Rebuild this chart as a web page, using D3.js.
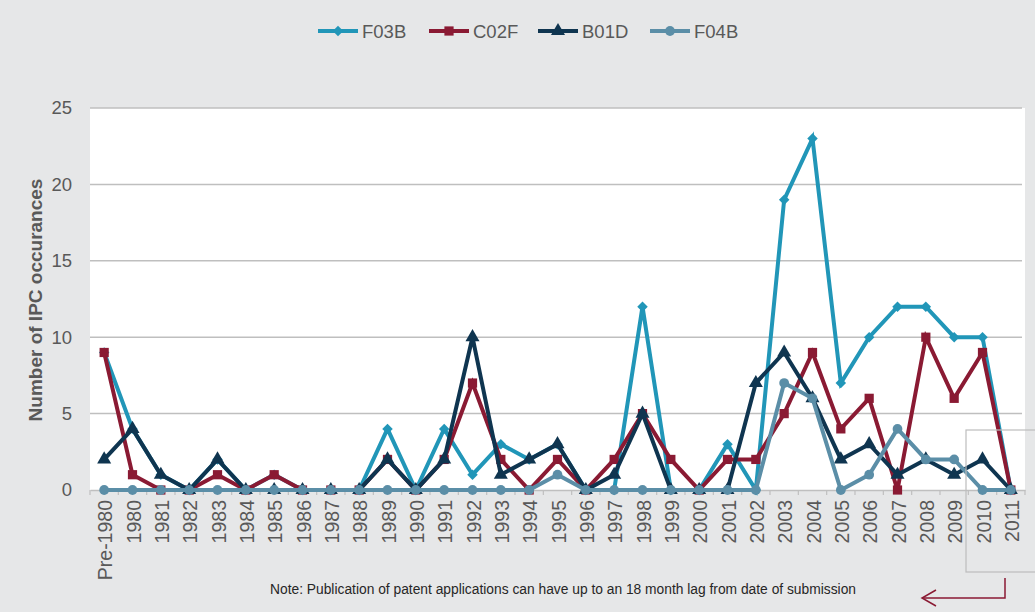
<!DOCTYPE html>
<html><head><meta charset="utf-8">
<script src="https://cdn.jsdelivr.net/npm/d3@7"></script>
<style>
html,body{margin:0;padding:0;background:#e6e7e8;}
svg{display:block;font-family:Arial,"Liberation Sans",sans-serif;}
</style></head>
<body>
<svg id="c" width="1035" height="612"></svg>
<script>
const categories = ["Pre-1980","1980","1981","1982","1983","1984","1985","1986","1987","1988","1989","1990","1991","1992","1993","1994","1995","1996","1997","1998","1999","2000","2001","2002","2003","2004","2005","2006","2007","2008","2009","2010","2011"];
const F03B = [9,4,1,0,2,0,1,0,0,0,4,0,4,1,3,2,3,0,0,12,0,0,3,0,19,23,7,10,12,12,10,10,0];
const C02F = [9,1,0,0,1,0,1,0,0,0,2,0,2,7,2,0,2,0,2,5,2,0,2,2,5,9,4,6,0,10,6,9,0];
const B01D = [2,4,1,0,2,0,0,0,0,0,2,0,2,10,1,2,3,0,1,5,0,0,0,7,9,6,2,3,1,2,1,2,0];
const F04B = [0,0,0,0,0,0,0,0,0,0,0,0,0,0,0,0,1,0,0,0,0,0,0,0,7,6,0,1,4,2,2,0,0];
const yTicks = [0,5,10,15,20,25];
const seriesNames = ["F03B","C02F","B01D","F04B"];
const seriesValues = [F03B, C02F, B01D, F04B];
const seriesColors = ["#2196b8","#8a1a33","#0f3550","#5b8ea7"];
const seriesSymbols = [d3.symbolDiamond2, d3.symbolSquare, d3.symbolTriangle, d3.symbolCircle];
const symbolSizes = [70, 85, 85, 75];
const yTitle = "Number of IPC occurances";
const note = "Note: Publication of patent applications can have up to an 18 month lag from date of submission";

const svg = d3.select("#c");
const L = 90, R = 1025, T = 108, B = 490;
const x = d3.scaleBand().domain(categories).range([L, R]);
const y = d3.scaleLinear().domain([0, 25]).range([B, T]);
const cx = d => x(d) + x.bandwidth()/2;

// plot background
svg.append("rect").attr("x", L).attr("y", T).attr("width", R - L).attr("height", B - T).attr("fill", "#ffffff");

// gridlines
svg.append("g").selectAll("line").data(yTicks.filter(v => v > 0)).join("line")
  .attr("x1", L).attr("x2", R - 3).attr("y1", d => y(d)).attr("y2", d => y(d))
  .attr("stroke", "#bfbfbf").attr("stroke-width", 1.5);

// y axis labels
const yAxis = d3.axisLeft(y).tickValues(yTicks).tickSize(0).tickPadding(18);
const gy = svg.append("g").attr("transform", `translate(${L},0)`).call(yAxis);
gy.select(".domain").remove();
gy.selectAll("text").attr("font-size", 18.5).attr("fill", "#595959").attr("font-family", "Arial, Liberation Sans, sans-serif");

// x axis
const xAxis = d3.axisBottom(x).tickSize(0).tickPadding(8);
const gx = svg.append("g").attr("transform", `translate(0,${B})`).call(xAxis);
gx.select(".domain").attr("stroke", "#bfbfbf").attr("stroke-width", 1.5);
gx.selectAll("text")
  .attr("font-size", 19.5).attr("fill", "#595959").attr("font-family", "Arial, Liberation Sans, sans-serif")
  .attr("text-anchor", "end").attr("dy", null).attr("y", 0)
  .attr("transform", "translate(1,10) rotate(-90)").attr("dx", 0).attr("dominant-baseline", "central");
// boundary tick marks
svg.append("g").selectAll("line").data(d3.range(categories.length + 1)).join("line")
  .attr("x1", i => L + x.step()*i).attr("x2", i => L + x.step()*i)
  .attr("y1", B).attr("y2", B + 5).attr("stroke", "#bfbfbf").attr("stroke-width", 1.2);

// y title
svg.append("text").attr("transform", `translate(42,300) rotate(-90)`)
  .attr("text-anchor", "middle").attr("font-size", 19).attr("font-weight", "bold").attr("fill", "#595959")
  .text(yTitle);

// series
const line = d3.line().x((d,i) => cx(categories[i])).y(d => y(d));
seriesValues.forEach((vals, si) => {
  const g = svg.append("g");
  g.append("path").datum(vals).attr("d", line).attr("fill", "none")
    .attr("stroke", seriesColors[si]).attr("stroke-width", 4).attr("stroke-linejoin", "miter");
  const sym = d3.symbol().type(seriesSymbols[si]).size(symbolSizes[si]);
  g.selectAll("path.m").data(vals).join("path").attr("class", "m")
    .attr("d", sym)
    .attr("transform", (d,i) => `translate(${cx(categories[i])},${y(d)})`)
    .attr("fill", seriesColors[si]);
});

// legend
const legendX = [318, 429, 538, 650];
const lg = svg.append("g");
seriesNames.forEach((n, i) => {
  const gx0 = legendX[i];
  lg.append("line").attr("x1", gx0).attr("x2", gx0 + 40).attr("y1", 31).attr("y2", 31)
    .attr("stroke", seriesColors[i]).attr("stroke-width", 4);
  lg.append("path").attr("d", d3.symbol().type(seriesSymbols[i]).size(symbolSizes[i])())
    .attr("transform", `translate(${gx0 + 20},31)`).attr("fill", seriesColors[i]);
  lg.append("text").attr("x", gx0 + 44).attr("y", 31).attr("dy", "0.36em")
    .attr("font-size", 18.5).attr("fill", "#595959").text(n);
});

// highlight box and arrow
svg.append("rect").attr("x", 966).attr("y", 430).attr("width", 80).attr("height", 142)
  .attr("fill", "none").attr("stroke", "#bdbdbd").attr("stroke-width", 1.2);
svg.append("path").attr("d", "M1005,578 L1005,598 L922,598").attr("fill", "none")
  .attr("stroke", "#8a1a33").attr("stroke-width", 1.5);
svg.append("path").attr("d", "M936,590 L922,598 L936,606").attr("fill", "none")
  .attr("stroke", "#8a1a33").attr("stroke-width", 1.5);

// note
svg.append("text").attr("x", 563).attr("y", 594).attr("text-anchor", "middle")
  .attr("font-size", 13.8).attr("fill", "#262626").text(note);
</script>
</body></html>
